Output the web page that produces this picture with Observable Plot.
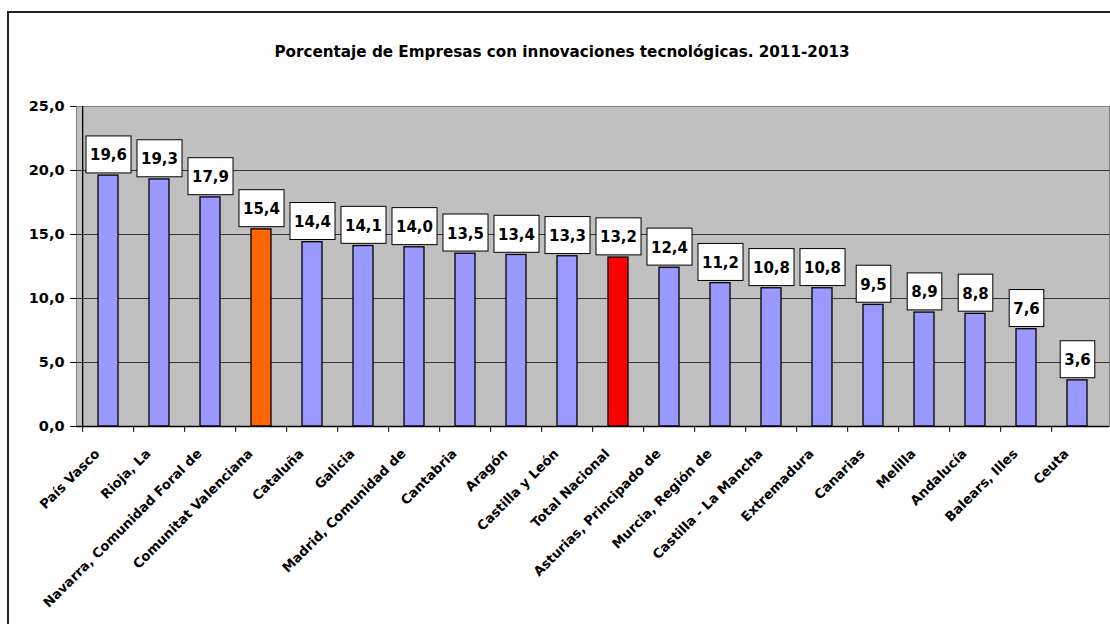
<!DOCTYPE html>
<html>
<head>
<meta charset="utf-8">
<script src="https://cdn.jsdelivr.net/npm/d3@7"></script>
<script src="https://cdn.jsdelivr.net/npm/@observablehq/plot@0.6"></script>
<style>
  html, body { margin: 0; padding: 0; background: #fff; width: 1110px; height: 624px; overflow: hidden; }
  #wrap { position: relative; width: 1110px; height: 624px; }
  #border { position: absolute; left: 7px; top: 11px; width: 1200px; height: 700px; border: 2px solid #222; box-sizing: border-box; }
  #chart { position: absolute; left: 0; top: 0; }
</style>
</head>
<body>
<div id="wrap"><div id="border"></div><div id="chart"></div></div>
<script>
const title = "Porcentaje de Empresas con innovaciones tecnológicas. 2011-2013";
const categories = ["País Vasco","Rioja, La","Navarra, Comunidad Foral de","Comunitat Valenciana","Cataluña","Galicia","Madrid, Comunidad de","Cantabria","Aragón","Castilla y León","Total Nacional","Asturias, Principado de","Murcia, Región de","Castilla - La Mancha","Extremadura","Canarias","Melilla","Andalucía","Balears, Illes","Ceuta"];
const values = [19.6,19.3,17.9,15.4,14.4,14.1,14.0,13.5,13.4,13.3,13.2,12.4,11.2,10.8,10.8,9.5,8.9,8.8,7.6,3.6];
const yTicks = [0,5,10,15,20,25];

const highlight = {"Comunitat Valenciana": "#FF6600", "Total Nacional": "#FF0000"};
const baseColor = "#9999FF";

const data = categories.map((c, i) => ({region: c, value: values[i]}));
const fmt = v => v.toFixed(1).replace(".", ",");

const W = 1110, H = 624, mL = 76, mR = 1, mT = 106, mB = 198;
const step = (W - mL - mR) / categories.length;
const font = "DejaVu Sans";

const tickShape = {draw(ctx, l) { ctx.moveTo(0, 0); ctx.lineTo(0, l); }};

const svg = Plot.plot({
  width: W, height: H,
  marginLeft: mL, marginRight: mR, marginTop: mT, marginBottom: mB,
  style: {background: "transparent", fontFamily: font, overflow: "visible"},
  x: {type: "band", domain: categories, paddingInner: 0.6, paddingOuter: 0.3, axis: null},
  y: {domain: [0, 25], axis: null},
  marks: [
    Plot.frame({fill: "#C0C0C0", stroke: "#808080"}),
    Plot.ruleY(yTicks.filter(t => t > 0 && t < 25), {stroke: "#333", strokeWidth: 1}),
    Plot.barY(data, {x: "region", y: "value", fill: d => highlight[d.region] || baseColor, stroke: "#000", strokeWidth: 1.3}),
    Plot.ruleY([0], {stroke: "#000", strokeWidth: 1.3}),
    Plot.ruleX([categories[0]], {y1: 0, y2: 25, dx: -step / 2, stroke: "#000", strokeWidth: 1.3}),
    Plot.axisY({ticks: yTicks, tickFormat: fmt, label: null, tickSize: 6, tickPadding: 6, fontSize: 14.5, fontWeight: "bold", fill: "#000", color: "#000"}),
    Plot.vector(categories, {x: d => d, y: () => 0, length: 5, shape: tickShape, anchor: "start", dx: -step / 2, stroke: "#000", strokeWidth: 1}),
    Plot.text(data, {x: "region", y: "value", text: d => fmt(d.value), dy: -20, lineAnchor: "middle", fontSize: 15, fontWeight: "bold", fill: "#000", className: "bar-label"}),
    Plot.text(categories, {x: d => d, frameAnchor: "bottom", text: d => d, rotate: -45, textAnchor: "end", lineAnchor: "middle", dx: -11, dy: 25, fontSize: 13.2, fontWeight: "bold", fill: "#000"}),
    Plot.text([title], {frameAnchor: "top", text: d => d, dy: -60, dx: -31, fontSize: 15.2, fontWeight: "bold", fill: "#000"})
  ]
});
document.getElementById("chart").append(svg);

// white boxes behind bar value labels, sized from the rendered text
const NS = "http://www.w3.org/2000/svg";
svg.querySelectorAll(".bar-label text").forEach(t => {
  const b = t.getBBox();
  const ay = parseFloat(t.getAttribute("y") || 0);
  const padX = 4, boxH = 37;
  const r = document.createElementNS(NS, "rect");
  r.setAttribute("x", b.x - padX);
  r.setAttribute("width", b.width + 2 * padX);
  r.setAttribute("y", ay - 20);
  r.setAttribute("height", boxH);
  r.setAttribute("fill", "#fff");
  r.setAttribute("stroke", "#000");
  r.setAttribute("stroke-width", 1);
  if (t.getAttribute("transform")) r.setAttribute("transform", t.getAttribute("transform"));
  t.parentNode.insertBefore(r, t);
});
</script>
</body>
</html>
